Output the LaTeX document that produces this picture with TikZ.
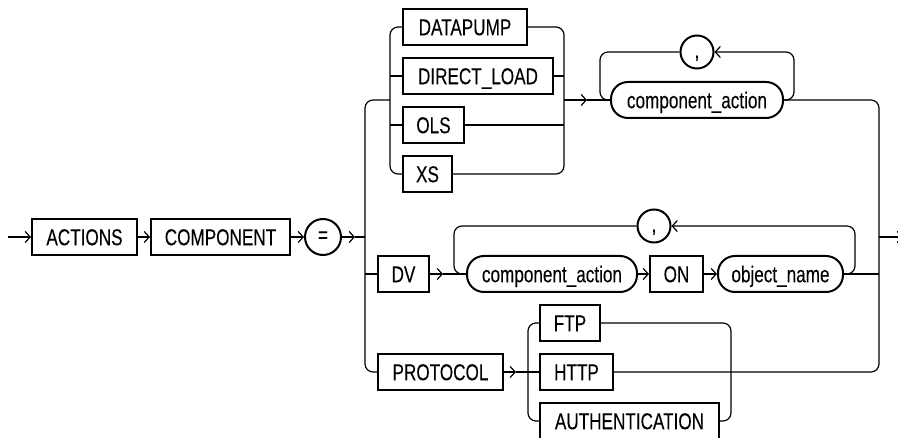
\documentclass[tikz,border=0pt]{standalone}
\usepackage{fontspec}
\setmainfont{Liberation Sans}[FakeStretch=0.745,FakeBold=0.15]
\usetikzlibrary{arrows.meta}
\begin{document}
\begin{tikzpicture}[x=1pt,y=-1pt,
  every node/.style={font=\fontsize{23}{26}\selectfont, text=black},
  kw/.style={draw, line width=2pt, rectangle, minimum height=36pt, inner sep=0pt, text height=16.5pt, text depth=0pt},
  nt/.style={kw, rounded corners=17pt},
  circ/.style={draw, line width=2pt, circle, inner sep=0pt},
  commac/.style={circ, minimum size=33pt, text height=12pt, text depth=0pt},
  conn/.style={line width=1.2pt},
  rc/.style={conn, rounded corners=8pt},
  arr/.style={-{Straight Barb[length=5pt,width=11pt]}}
]
\useasboundingbox (0,0) rectangle (898,438);

% nodes
\node[kw, minimum width=105pt] (actions) at (84.5,237) {ACTIONS};
\node[kw, minimum width=139pt] (component) at (220.5,237) {COMPONENT};
\node[circ, minimum size=36pt] (eq) at (323,237) {=};
\node[kw, minimum width=124pt] (datapump) at (465,27) {DATAPUMP};
\node[kw, minimum width=150pt] (directload) at (478,76) {DIRECT\_LOAD};
\node[kw, minimum width=61pt] (ols) at (433.5,125) {OLS};
\node[kw, minimum width=49pt] (xs) at (427.5,174) {XS};
\node[nt, minimum width=172pt] (ca1) at (697,100) {component\_action};
\node[commac] (c1) at (697,52) {,};
\node[kw, minimum width=51pt] (dv) at (403.5,274) {DV};
\node[nt, minimum width=170pt] (ca2) at (552,274) {component\_action};
\node[kw, minimum width=53pt] (on) at (676.5,274) {ON};
\node[nt, minimum width=125pt] (obj) at (780.5,274) {object\_name};
\node[commac] (c2) at (654,226) {,};
\node[kw, minimum width=125pt] (protocol) at (440.5,372) {PROTOCOL};
\node[kw, minimum width=60pt] (ftp) at (570,323) {FTP};
\node[kw, minimum width=73pt] (http) at (576.5,372) {HTTP};
\node[kw, minimum width=179pt] (auth) at (629.5,421) {AUTHENTICATION};

% coordinates
\coordinate (start) at (8,237);
\coordinate (a0) at (355,237);
\coordinate (bl) at (365,237);
\coordinate (tgin) at (390,100);
\coordinate (a1) at (587,100);
\coordinate (a2) at (443,274);
\coordinate (a3) at (516,372);
\coordinate (endc) at (903,237);

% main line
\draw[conn,arr] (start) -- (actions);
\draw[conn,arr] (actions) -- (component);
\draw[conn,arr] (component) -- (eq);
\draw[conn,arr] (eq) -- (a0);
\draw[conn] (a0) -- (bl);

% left bus
\draw[rc] (tgin) -- (365,100) -- (365,372) -- (protocol.west);
\draw[conn] (365,274) -- (dv.west);

% top group
\draw[rc] (datapump.west) -- (390,27) -- (390,174) -- (xs.west);
\draw[conn] (390,76) -- (directload.west);
\draw[conn] (390,125) -- (ols.west);
\draw[rc] (datapump.east) -- (564,27) -- (564,174) -- (xs.east);
\draw[conn] (directload.east) -- (564,76);
\draw[conn] (ols.east) -- (564,125);
\draw[conn,arr] (564,100) -- (a1);
\draw[conn] (a1) -- (ca1.west);

% loop 1
\draw[rc,arr] (ca1.east) -- (794,100) -- (794,52) -- (c1.east);
\draw[rc] (c1.west) -- (600,52) -- (600,100) -- (ca1.west);

% right bus
\draw[rc] (ca1.east) -- (879,100) -- (879,372) -- (http.east);
\draw[conn] (obj.east) -- (879,274);
\draw[conn,arr] (879,237) -- (endc);

% DV row
\draw[conn,arr] (dv.east) -- (a2);
\draw[conn] (a2) -- (ca2.west);
\draw[conn,arr] (ca2.east) -- (on.west);
\draw[conn,arr] (on.east) -- (obj.west);
\draw[rc,arr] (obj.east) -- (855,274) -- (855,226) -- (c2.east);
\draw[rc] (c2.west) -- (454,226) -- (454,274) -- (ca2.west);

% PROTOCOL row
\draw[conn,arr] (protocol.east) -- (a3);
\draw[conn] (a3) -- (http.west);
\draw[rc] (ftp.west) -- (528,323) -- (528,421) -- (auth.west);
\draw[rc] (ftp.east) -- (731,323) -- (731,421) -- (auth.east);
\end{tikzpicture}
\end{document}
